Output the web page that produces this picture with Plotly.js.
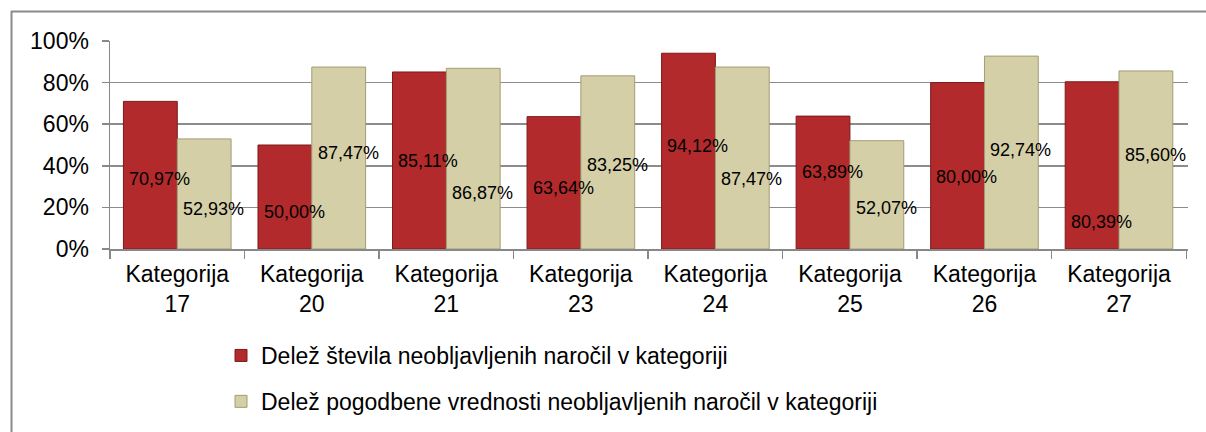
<!DOCTYPE html>
<html>
<head>
<meta charset="utf-8">
<script src="https://cdn.plot.ly/plotly-3.0.1.min.js"></script>
<style>
html,body{margin:0;padding:0;background:#fff;}
#chart{width:1206px;height:432px;}
</style>
</head>
<body>
<div id="chart"></div>
<script>
// Data
const categories = ['Kategorija 17','Kategorija 20','Kategorija 21','Kategorija 23','Kategorija 24','Kategorija 25','Kategorija 26','Kategorija 27'];
const seriesNames = ['Delež števila neobljavljenih naročil v kategoriji','Delež pogodbene vrednosti neobljavljenih naročil v kategoriji'];
const shareCount = [70.97, 50.00, 85.11, 63.64, 94.12, 63.89, 80.00, 80.39];
const shareValue = [52.93, 87.47, 86.87, 83.25, 87.47, 52.07, 92.74, 85.60];
const tickLabels = ['Kategorija<br>17','Kategorija<br>20','Kategorija<br>21','Kategorija<br>23','Kategorija<br>24','Kategorija<br>25','Kategorija<br>26','Kategorija<br>27'];

// Label placement (layout only: vertical position of the data labels, in axis %)
const labelYCount = [33.7, 17.8, 42.3, 29.3, 49.5, 37.0, 34.6, 13.0];
const labelYValue = [19.2, 46.2, 26.9, 40.4, 33.7, 19.7, 47.6, 45.2];

const fmt = v => v.toFixed(2).replace('.', ',') + '%';
const FONT = 'Liberation Sans, Arial, sans-serif';

const traces = [
  {
    type: 'bar', name: seriesNames[0], x: categories, y: shareCount,
    legendgroup: 'a',
    marker: {color: '#B22A2B', line: {color: '#7E1A1B', width: 1}},
    hoverinfo: 'x+y'
  },
  {
    type: 'bar', name: seriesNames[1], x: categories, y: shareValue,
    legendgroup: 'b',
    marker: {color: '#D5CFA7', line: {color: '#A39C74', width: 1}},
    hoverinfo: 'x+y'
  }
];

const annotations = [];
categories.forEach((c, i) => {
  annotations.push({x: c, y: labelYCount[i], xref: 'x', yref: 'y', text: fmt(shareCount[i]),
    showarrow: false, xanchor: 'left', yanchor: 'middle', xshift: -50,
    font: {family: FONT, size: 18, color: '#000'}});
  annotations.push({x: c, y: labelYValue[i], xref: 'x', yref: 'y', text: fmt(shareValue[i]),
    showarrow: false, xanchor: 'left', yanchor: 'middle', xshift: 4,
    font: {family: FONT, size: 18, color: '#000'}});
});

const W = 1206, H = 432;
const L = 110, R = 18, T = 41, B = 183;
const PW = W - L - R, PH = H - T - B;
const px = v => (v - L) / PW;
const py = v => (H - B - v) / PH;

const layout = {
  width: W, height: H,
  margin: {l: L, r: R, t: T, b: B, pad: 0, autoexpand: false},
  paper_bgcolor: '#fff', plot_bgcolor: '#fff',
  font: {family: FONT, color: '#000', size: 23},
  barmode: 'group', bargap: 0.2, bargroupgap: 0,
  xaxis: {
    type: 'category', tickvals: categories, ticktext: tickLabels,
    showline: true, linecolor: '#888', linewidth: 1.5,
    ticks: 'outside', tickson: 'boundaries', ticklen: 8, tickcolor: '#888', tickwidth: 1.5,
    showgrid: false, tickfont: {size: 23, family: FONT, color: '#000'},
    ticklabelstandoff: 4, automargin: false,
    fixedrange: true
  },
  yaxis: {
    range: [0, 100], tickvals: [0, 20, 40, 60, 80, 100],
    ticktext: ['0%', '20%', '40%', '60%', '80%', '100%'],
    showline: true, linecolor: '#888', linewidth: 1.5,
    ticks: 'outside', ticklen: 7, tickcolor: '#888', tickwidth: 1.5,
    showgrid: true, gridcolor: '#8c8c8c', gridwidth: 1.5,
    zeroline: false, ticklabelstandoff: 8, automargin: false,
    tickfont: {size: 23, family: FONT, color: '#000'},
    fixedrange: true
  },
  showlegend: true,
  legend: {
    orientation: 'v', xref: 'container', yref: 'container',
    x: 221 / W, xanchor: 'left', y: 1 - 334 / H, yanchor: 'top',
    font: {size: 23, family: FONT, color: '#000'}, tracegroupgap: 13,
    bgcolor: 'rgba(0,0,0,0)', traceorder: 'grouped'
  },
  annotations: annotations,
  shapes: [
    {type: 'line', xref: 'paper', yref: 'paper', x0: px(11), x1: px(1206), y0: py(11.5), y1: py(11.5),
     line: {color: '#8a8a8a', width: 2}, layer: 'below'},
    {type: 'line', xref: 'paper', yref: 'paper', x0: px(11.5), x1: px(11.5), y0: py(11), y1: py(432),
     line: {color: '#8a8a8a', width: 2}, layer: 'below'}
  ]
};

Plotly.newPlot('chart', traces, layout, {displayModeBar: false, staticPlot: true});
</script>
</body>
</html>
